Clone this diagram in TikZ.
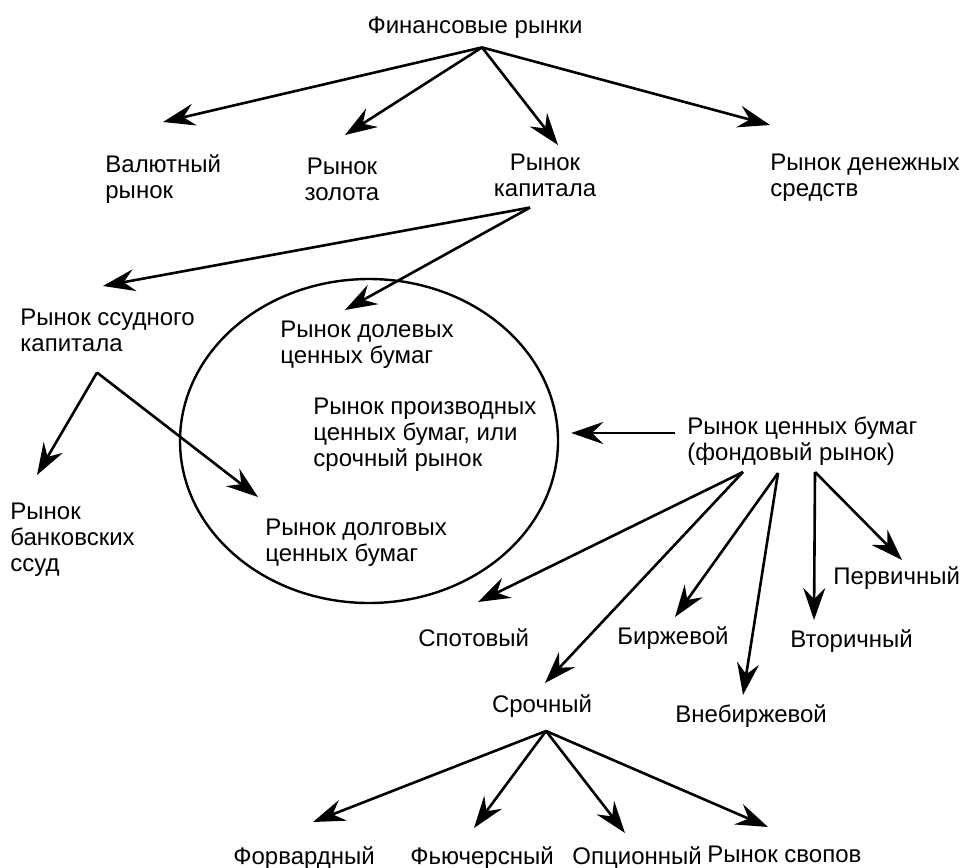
\documentclass[tikz,border=0pt]{standalone}
\usepackage{fontspec}
\setmainfont{Liberation Sans}
\usetikzlibrary{arrows.meta,shapes.geometric}

\begin{document}
\begin{tikzpicture}[x=0.5pt, y=-0.5pt,
	lbl/.style={inner sep=0pt, font=\fontsize{12}{13}\selectfont},
	arr/.style={-{Stealth[length=16pt, width=11pt, inset=5.5pt]}, line width=1.3pt}]
	\useasboundingbox (0,0) rectangle (961,867);
	% top level
	\node[lbl, anchor=north] (fin) at (475,16) {Финансовые рынки};
	\node[lbl, anchor=north west, align=left] (val) at (105,154) {Валютный\\рынок};
	\node[lbl, anchor=north, align=center] (gold) at (342,158) {Рынок\\золота};
	\node[lbl, anchor=north, align=center] (cap) at (545,154) {Рынок\\капитала};
	\node[lbl, anchor=north west, align=left] (money) at (770,154) {Рынок денежных\\средств};
	\draw[arr] ([xshift=3.5pt, yshift=-4.5pt]fin.south) -- ([xshift=29pt, yshift=16pt]val.north west);
	\draw[arr] ([xshift=3.5pt, yshift=-4.5pt]fin.south) -- ([xshift=1.5pt, yshift=11.5pt]gold.north);
	\draw[arr] ([xshift=3.5pt, yshift=-4.5pt]fin.south) -- ([xshift=6.5pt, yshift=4.5pt]cap.north);
	\draw[arr] ([xshift=3.5pt, yshift=-4.5pt]fin.south) -- ([yshift=14.5pt]money.north west);
	% capital market
	\node[lbl, anchor=north west, align=left] (loan) at (20,309) {Рынок ссудного\\капитала};
	\node[lbl, anchor=north west, align=left] (bank) at (10,503) {Рынок\\банковских\\ссуд};
	\node[ellipse, draw, line width=1.2pt, minimum width=189pt, minimum height=162pt, inner sep=0pt] (oval) at (369,441) {};
	\node[lbl, anchor=north west, align=left] (equity) at (280,321) {Рынок долевых\\ценных бумаг};
	\node[lbl, anchor=north west, align=left] (deriv) at (313,398) {Рынок производных\\ценных бумаг, или\\срочный рынок};
	\node[lbl, anchor=north west, align=left] (debt) at (265,519) {Рынок долговых\\ценных бумаг};
	\draw[arr] ([xshift=-7.5pt, yshift=-5pt]cap.south) -- ([xshift=41.5pt, yshift=11.5pt]loan.north west);
	\draw[arr] ([xshift=-7.5pt, yshift=-5pt]cap.south) -- ([xshift=32.5pt, yshift=5.5pt]equity.north west);
	\draw[arr] ([xshift=38.5pt, yshift=-10pt]loan.south west) -- ([xshift=13.5pt, yshift=14pt]bank.north west);
	\draw[arr] ([xshift=38.5pt, yshift=-10pt]loan.south west) -- ([xshift=-3.5pt, yshift=11pt]debt.north west);
	% securities market
	\node[lbl, anchor=north west, align=left] (sec) at (687,416) {Рынок ценных бумаг\\(фондовый рынок)};
	\node[lbl, anchor=north west] (spot) at (418,628) {Спотовый};
	\node[lbl, anchor=north] (term) at (542,694) {Срочный};
	\node[lbl, anchor=north west] (exch) at (617,626) {Биржевой};
	\node[lbl, anchor=north west] (otc) at (675,704) {Внебиржевой};
	\node[lbl, anchor=north west] (second) at (790,629) {Вторичный};
	\node[lbl, anchor=north west] (prim) at (833,566) {Первичный};
	\draw[arr] ([xshift=-6pt, yshift=-8.5pt]sec.north west) -- ([xshift=6pt, yshift=4pt]oval.east);
	\draw[arr] ([xshift=28pt, yshift=-28pt]sec.north west) -- ([xshift=30pt, yshift=13pt]spot.north west);
	\draw[arr] ([xshift=28pt, yshift=-28pt]sec.north west) -- ([xshift=1.5pt, yshift=5.5pt]term.north);
	\draw[arr] ([xshift=45.5pt, yshift=-28.5pt]sec.north west) -- ([xshift=29pt, yshift=4.5pt]exch.north west);
	\draw[arr] ([xshift=45.5pt, yshift=-28.5pt]sec.north west) -- ([xshift=34pt, yshift=4.5pt]otc.north west);
	\draw[arr] ([xshift=64pt, yshift=-28pt]sec.north west) -- ([xshift=12pt, yshift=4.5pt]second.north west);
	\draw[arr] ([xshift=64pt, yshift=-28pt]sec.north west) -- ([xshift=34.5pt, yshift=3pt]prim.north west);
	% term market
	\node[lbl, anchor=north west] (fwd) at (233,846) {Форвардный};
	\node[lbl, anchor=north west] (fut) at (410,846) {Фьючерсный};
	\node[lbl, anchor=north west] (opt) at (572,846) {Опционный};
	\node[lbl, anchor=north west] (swap) at (707,846) {Рынок свопов};
	\draw[arr] ([xshift=2pt, yshift=-18.5pt]term.north) -- ([xshift=40pt, yshift=12pt]fwd.north west);
	\draw[arr] ([xshift=2pt, yshift=-18.5pt]term.north) -- ([xshift=32pt, yshift=9pt]fut.north west);
	\draw[arr] ([xshift=2pt, yshift=-18.5pt]term.north) -- ([xshift=26.5pt, yshift=6.5pt]opt.north west);
	\draw[arr] ([xshift=2pt, yshift=-18.5pt]term.north) -- ([xshift=30.5pt, yshift=9.5pt]swap.north west);
\end{tikzpicture}
\end{document}
